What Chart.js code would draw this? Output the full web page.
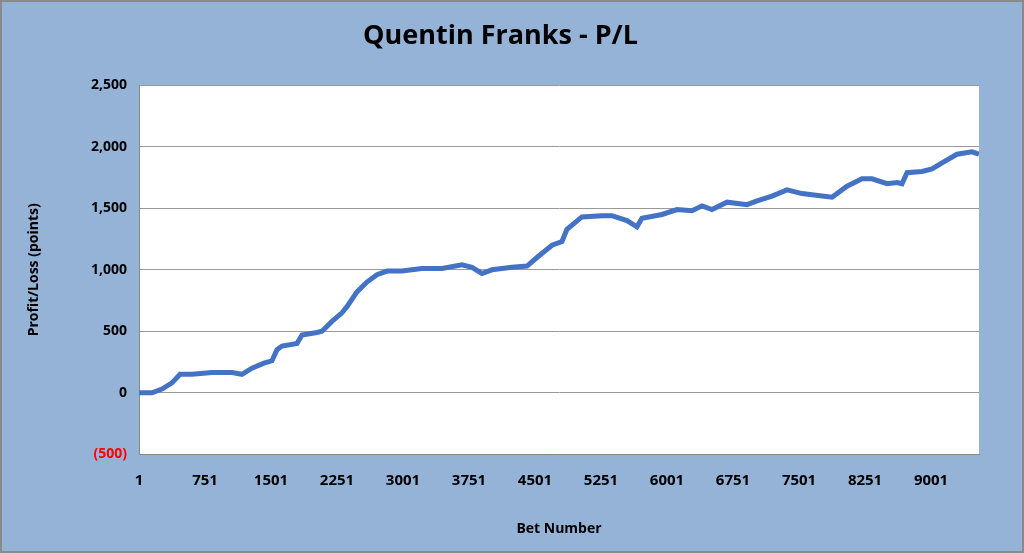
<!DOCTYPE html>
<html>
<head>
<meta charset="utf-8">
<script src="https://cdn.jsdelivr.net/npm/chart.js@4/dist/chart.umd.min.js"></script>
<style>
  html, body { margin: 0; padding: 0; background: #fff; }
  #wrap { width: 1020px; height: 549px; background: #95b3d7; border: 2px solid #8a8a8a; }
</style>
</head>
<body>
<div id="wrap"><canvas id="chartPL" width="1020" height="549"></canvas></div>
<script>
// Data (nomor taruhan dan profit/loss kumulatif)
const betNumbers = [1, 149, 262, 376, 467, 603, 830, 1058, 1171, 1285, 1421, 1512, 1569, 1626, 1796, 1853,
  2023, 2080, 2194, 2307, 2364, 2478, 2591, 2705, 2819, 2989, 3216, 3444, 3671, 3785, 3898, 4012, 4239,
  4410, 4523, 4694, 4807, 4864, 5034, 5262, 5375, 5546, 5659, 5716, 5944, 6114, 6285, 6399, 6512, 6683,
  6910, 7024, 7194, 7364, 7535, 7762, 7876, 8046, 8217, 8330, 8501, 8615, 8671, 8728, 8899, 9012, 9126,
  9296, 9467, 9546];
const profitLoss = [0, 0, 30, 80, 150, 150, 165, 165, 150, 200, 240, 260, 350, 380, 400, 470,
  490, 500, 580, 650, 700, 820, 900, 960, 990, 990, 1010, 1010, 1040, 1020, 970, 1000, 1020,
  1030, 1100, 1200, 1230, 1330, 1430, 1440, 1440, 1400, 1350, 1420, 1450, 1490, 1480, 1520, 1490, 1550,
  1530, 1560, 1600, 1650, 1620, 1600, 1590, 1680, 1740, 1740, 1700, 1710, 1700, 1790, 1800, 1820, 1870,
  1940, 1960, 1940];
const xTickLabels = [1, 751, 1501, 2251, 3001, 3751, 4501, 5251, 6001, 6751, 7501, 8251, 9001];

const ctx = document.getElementById('chartPL').getContext('2d');
const chartPL = new Chart(ctx, {
  type: 'line',
  data: {
    datasets: [{
      data: betNumbers.map((b, i) => ({ x: b, y: profitLoss[i] })),
      borderColor: '#4472c4',
      borderWidth: 5,
      pointRadius: 0,
      tension: 0,
      fill: false,
    }],
  },
  options: {
    responsive: false,
    animation: false,
    layout: { padding: { left: 20, right: 43, top: 10, bottom: 10 } },
    plugins: {
      legend: { display: false },
      title: {
        display: true,
        text: 'Quentin Franks - P/L',
        color: '#000',
        font: { family: 'Open Sans', size: 27, weight: 'bold' },
        padding: { top: 8, bottom: 33 },
      },
    },
    scales: {
      x: {
        type: 'linear',
        min: 1,
        max: 9546,
        afterBuildTicks: (axis) => { axis.ticks = xTickLabels.map((v) => ({ value: v })); },
        grid: { display: false },
        border: { color: '#888' },
        ticks: { color: '#000', font: { family: 'Open Sans', size: 15, weight: 'bold' }, maxRotation: 0, padding: 10,
          callback: (v) => String(v) },
        title: { display: true, text: 'Bet Number', color: '#000', font: { family: 'Open Sans', size: 14, weight: 'bold' }, padding: { top: 20 } },
      },
      y: {
        min: -500,
        max: 2500,
        afterFit: (axis) => { axis.width = 117; },
        ticks: {
          stepSize: 500,
          color: (c) => (c.tick.value < 0 ? '#ff0000' : '#000'),
          font: { family: 'Open Sans', size: 14, weight: 'bold' },
          callback: (v) => (v < 0 ? '(' + Math.abs(v).toLocaleString('en-US') + ')' : v.toLocaleString('en-US')),
          padding: 12,
        },
        grid: { color: '#999', drawTicks: false },
        border: { color: '#888' },
        title: { display: true, text: 'Profit/Loss (points)', color: '#000', font: { family: 'Open Sans', size: 14, weight: 'bold' } },
      },
    },
  },
  plugins: [{
    id: 'plotBg',
    beforeDraw: (chart) => {
      const a = chart.chartArea;
      chart.ctx.save();
      chart.ctx.fillStyle = '#fff';
      chart.ctx.fillRect(a.left, a.top, a.right - a.left, a.bottom - a.top);
      chart.ctx.restore();
    },
  }],
});
</script>
</body>
</html>
